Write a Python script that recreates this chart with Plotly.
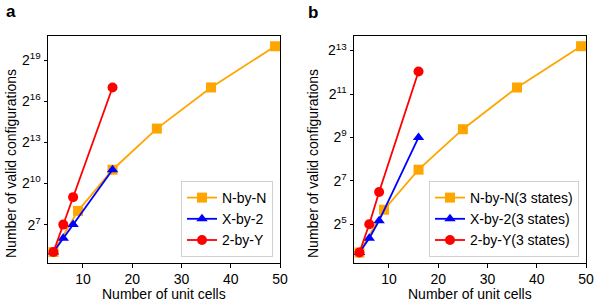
import math
import plotly.graph_objects as go
from plotly.subplots import make_subplots

# ---------------- data ----------------
nbyn_x = [4, 9, 16, 25, 36, 49]
xby2_x = [4, 6, 8, 16]
twobyy_x = [4, 6, 8, 16]

# panel a (2 states)
nbyn_a = [32, 256, 2048, 16384, 131072, 1048576]
xby2_a = [32, 64, 128, 2048]
twobyy_a = [32, 128, 512, 131072]

# panel b (3 states)
nbyn_b = [13, 51, 183, 666, 2520, 9410]
xby2_b = [13, 20.5, 36, 512]
twobyy_b = [13, 32, 90, 4200]

names_a = ["N-by-N", "X-by-2", "2-by-Y"]
names_b = ["N-by-N(3 states)", "X-by-2(3 states)", "2-by-Y(3 states)"]

xticks = [10, 20, 30, 40, 50]
yexp_a = [7, 10, 13, 16, 19]
yexp_b = [5, 7, 9, 11, 13]

x_title = "Number of unit cells"
y_title = "Number of valid configurations"

colors = ["#FFA500", "#0000FF", "#FF0000"]
symbols = ["square", "triangle-up", "circle"]
msizes = [10, 10, 10]

FONT = "Liberation Sans, Arial, sans-serif"
FS = 14

fig = make_subplots(rows=1, cols=2)

series_a = [(nbyn_x, nbyn_a), (xby2_x, xby2_a), (twobyy_x, twobyy_a)]
series_b = [(nbyn_x, nbyn_b), (xby2_x, xby2_b), (twobyy_x, twobyy_b)]

for i, (xs, ys) in enumerate(series_a):
    fig.add_trace(go.Scatter(
        x=xs, y=ys, name=names_a[i], mode="lines+markers",
        line=dict(color=colors[i], width=1.8),
        marker=dict(symbol=symbols[i], size=msizes[i], color=colors[i]),
        legend="legend", cliponaxis=False), row=1, col=1)

for i, (xs, ys) in enumerate(series_b):
    fig.add_trace(go.Scatter(
        x=xs, y=ys, name=names_b[i], mode="lines+markers",
        line=dict(color=colors[i], width=1.8),
        marker=dict(symbol=symbols[i], size=msizes[i], color=colors[i]),
        legend="legend2", cliponaxis=False), row=1, col=2)

L2 = math.log10(2)
axis_common = dict(showline=True, linecolor="black", linewidth=1, mirror=True,
                   ticks="outside", ticklen=3.5, tickwidth=1, tickcolor="black",
                   showgrid=False, zeroline=False, automargin=False,
                   tickfont=dict(family=FONT, size=FS, color="black"))

fig.update_xaxes(range=[2.9, 50], tickvals=xticks, **axis_common)

fig.update_yaxes(type="log", row=1, col=1,
                 range=[4.2 * L2, 20.75 * L2],
                 tickvals=[2 ** e for e in yexp_a],
                 ticktext=["2<sup>%d</sup>" % e for e in yexp_a],
                 **axis_common)
fig.update_yaxes(type="log", row=1, col=2,
                 range=[3.22 * L2, 13.67 * L2],
                 tickvals=[2 ** e for e in yexp_b],
                 ticktext=["2<sup>%d</sup>" % e for e in yexp_b],
                 **axis_common)

fig.update_layout(
    xaxis=dict(domain=[48 / 616, 280 / 616]),
    xaxis2=dict(domain=[354 / 616, 586 / 616]),
    yaxis=dict(domain=[38 / 301, 265 / 301]),
    yaxis2=dict(domain=[38 / 301, 265 / 301]),
)

legend_common = dict(bgcolor="white", bordercolor="#d0d0d0", borderwidth=1,
                     font=dict(family=FONT, size=FS, color="black"),
                     xanchor="right", yanchor="bottom", tracegroupgap=0,
                     itemwidth=30)
fig.update_layout(
    legend=dict(x=273 / 616, y=44 / 301, **legend_common),
    legend2=dict(x=579 / 616, y=44 / 301, **legend_common),
)

def ann(text, x, y, size=FS, angle=0, bold=False):
    fig.add_annotation(text=("<b>%s</b>" % text) if bold else text,
                       x=x / 616, y=1 - y / 301, xref="paper", yref="paper",
                       showarrow=False, xanchor="center", yanchor="middle",
                       textangle=angle,
                       font=dict(family=FONT, size=size, color="black"))

ann("a", 11, 11, size=17, bold=True)
ann("b", 313, 12, size=17, bold=True)
ann(x_title, 164, 294)
ann(x_title, 470, 294)
ann(y_title, 11, 164, angle=-90)
ann(y_title, 313, 164, angle=-90)

fig.update_layout(width=616, height=301, margin=dict(l=0, r=0, t=0, b=0),
                  plot_bgcolor="white", paper_bgcolor="white", showlegend=True,
                  font=dict(family=FONT, size=FS, color="black"))

fig.write_html("out.html", config={"displayModeBar": False},
               post_script="document.body.style.margin='0px';document.body.style.overflow='hidden';")
